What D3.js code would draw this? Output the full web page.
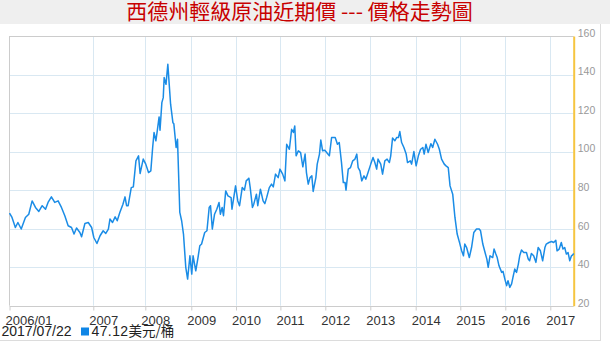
<!DOCTYPE html>
<html><head><meta charset="utf-8">
<script src="https://cdn.jsdelivr.net/npm/d3@7"></script>
<style>html,body{margin:0;padding:0;background:#fff;} svg{display:block}</style>
</head><body>
<svg id="c" width="610" height="356"></svg>
<script>
const title = "西德州輕級原油近期價 --- 價格走勢圖";
const yearTicks = [2006, 2007, 2008, 2009, 2010, 2011, 2012, 2013, 2014, 2015, 2016, 2017];
const yearLabels = ["2006/01", "2007", "2008", "2009", "2010", "2011", "2012", "2013", "2014", "2015", "2016", "2017"];
const endTime = 2017.553;
const yTicks = [20, 40, 60, 80, 100, 120, 140, 160];
const lastDate = "2017/07/22";
const lastPrice = "47.12";
const unit = "美元/桶";

// decimal-year times and WTI prices (USD/bbl)
const times = [
2006.00,2006.03,2006.07,2006.10,2006.14,2006.19,2006.23,2006.27,2006.31,2006.35,2006.39,2006.43,2006.46,2006.50,2006.54,2006.58,2006.62,2006.66,2006.70,2006.74,2006.77,2006.80,2006.84,2006.86,2006.90,2006.94,2006.98,
2007.01,2007.07,2007.13,2007.19,2007.24,2007.29,2007.32,2007.37,2007.42,2007.46,2007.51,2007.57,2007.61,2007.64,2007.67,2007.73,2007.77,2007.82,2007.87,2007.90,2007.96,
2008.01,2008.07,2008.12,2008.16,2008.19,2008.23,2008.26,2008.30,2008.32,2008.36,2008.39,2008.41,2008.45,2008.49,2008.52,2008.55,2008.60,2008.62,2008.67,2008.70,2008.75,2008.79,2008.83,2008.88,2008.92,2008.97,
2009.01,2009.04,2009.10,2009.15,2009.19,2009.23,2009.30,2009.35,2009.40,2009.43,2009.47,2009.52,2009.57,2009.62,2009.65,2009.69,2009.72,2009.77,2009.82,2009.89,2009.91,2009.99,
2010.04,2010.08,2010.14,2010.19,2010.23,2010.29,2010.32,2010.37,2010.40,2010.46,2010.49,2010.55,2010.61,2010.65,2010.69,2010.75,2010.80,2010.84,2010.89,2010.95,2010.99,
2011.05,2011.10,2011.14,2011.20,2011.25,2011.29,2011.32,2011.35,2011.40,2011.45,2011.50,2011.55,2011.58,2011.62,2011.66,2011.70,2011.73,2011.79,2011.82,2011.87,2011.90,2011.94,2011.99,
2012.03,2012.09,2012.14,2012.22,2012.27,2012.31,2012.36,2012.40,2012.44,2012.46,2012.51,2012.56,2012.61,2012.66,2012.70,2012.73,2012.77,2012.81,2012.86,2012.90,2012.95,
2013.01,2013.06,2013.10,2013.14,2013.17,2013.23,2013.27,2013.32,2013.37,2013.42,2013.45,2013.49,2013.54,2013.58,2013.62,2013.65,2013.69,2013.74,2013.79,2013.82,2013.88,2013.91,2013.96,
2014.01,2014.06,2014.11,2014.16,2014.19,2014.23,2014.28,2014.34,2014.38,2014.43,2014.49,2014.53,2014.58,2014.64,2014.68,2014.73,2014.77,2014.83,2014.88,2014.93,2014.98,
2015.03,2015.07,2015.10,2015.14,2015.20,2015.25,2015.30,2015.36,2015.42,2015.45,2015.50,2015.55,2015.59,2015.62,2015.66,2015.72,2015.75,2015.79,2015.82,2015.86,2015.92,2015.95,2015.99,
2016.03,2016.06,2016.10,2016.14,2016.17,2016.21,2016.25,2016.29,2016.32,2016.36,2016.41,2016.47,2016.51,2016.54,2016.58,2016.63,2016.68,2016.73,2016.78,2016.83,2016.88,2016.91,2016.97,
2017.03,2017.08,2017.13,2017.16,2017.21,2017.26,2017.30,2017.34,2017.38,2017.42,2017.46,2017.50,2017.53,2017.553
];
const prices = [
68.1,65.8,60.6,63.2,59.8,65.8,67.5,74.4,71.0,68.9,71.9,70.1,73.6,76.5,73.6,74.4,71.0,66.7,61.5,60.6,57.2,60.3,58.0,55.8,62.7,63.2,60.6,
55.4,52.3,56.3,58.9,57.5,59.8,65.0,63.2,66.1,64.1,68.4,72.7,76.5,71.9,71.9,81.3,81.7,95.2,97.8,88.6,96.1,
93.5,89.1,90.0,102.1,109.9,105.6,110.7,118.0,111.1,125.4,128.0,138.4,134.9,145.3,134.9,124.6,115.0,114.5,102.1,106.4,68.4,64.1,57.2,39.9,33.8,45.9,
36.4,45.9,38.1,45.0,51.1,52.0,58.0,58.9,71.0,71.9,59.8,67.5,70.1,73.6,67.5,71.0,66.7,79.6,77.0,76.1,70.1,82.2,
74.4,71.9,81.3,80.0,84.8,86.2,81.3,71.0,72.7,77.9,71.9,80.5,74.4,73.0,76.1,81.3,83.1,81.7,88.3,86.5,90.9,
88.3,84.8,103.8,101.2,111.6,109.9,113.3,97.8,100.4,99.5,92.1,98.7,89.1,83.1,86.5,87.4,79.3,86.5,93.5,98.7,106.0,100.4,100.7,
99.5,97.8,107.3,107.3,103.8,104.7,94.3,83.9,83.9,80.0,90.9,91.7,95.2,96.1,98.7,91.7,90.0,84.8,87.4,85.7,89.1,
93.5,96.9,94.3,90.9,96.1,93.5,88.3,95.2,96.1,94.3,97.8,107.0,105.6,107.3,107.3,110.4,104.7,102.1,98.7,94.3,95.2,93.5,100.0,
92.6,97.8,101.2,102.1,98.7,103.8,99.5,104.1,102.1,106.4,103.8,101.2,96.1,93.5,92.6,91.7,82.2,77.9,65.8,57.2,53.0,
48.5,45.9,52.0,50.2,45.0,50.2,58.0,59.8,59.8,58.9,52.0,47.6,44.2,39.9,45.9,45.0,49.4,46.8,45.0,40.7,37.3,37.8,33.8,
30.4,33.0,29.5,31.3,34.7,39.0,37.3,41.6,45.9,48.9,47.6,47.6,44.2,43.3,47.1,45.9,42.5,50.2,48.5,43.3,50.2,52.0,52.8,
53.3,52.8,54.0,48.5,49.4,52.8,49.4,50.2,46.8,47.6,43.3,45.9,46.4,47.12
];

const svg = d3.select("#c");
const W = 610, H = 356;
const pL = 9.5, pR = 573.7, pT = 36, pB = 305.7;

// page background / header band
svg.append("rect").attr("x", 0).attr("y", 0).attr("width", W).attr("height", 24).attr("fill", "#efefef");
svg.append("line").attr("x1", 600.5).attr("x2", 600.5).attr("y1", 24).attr("y2", 341).attr("stroke", "#dcdcdc");
svg.append("line").attr("x1", 0).attr("x2", 601).attr("y1", 340.5).attr("y2", 340.5).attr("stroke", "#dcdcdc");

svg.append("text").attr("x", 299.5).attr("y", 18.5).attr("text-anchor", "middle")
  .attr("font-family", "'Noto Sans CJK TC', sans-serif").attr("font-size", "21px").attr("fill", "#c80000")
  .text(title);

// scales (x is piecewise-linear by year, as in the original)
const x = d3.scaleLinear()
  .domain([...yearTicks, endTime])
  .range([pL, 93.3, 145.3, 191.3, 236, 280.4, 325.3, 370.3, 415.7, 460.3, 505.3, 550.3, pR]);
const y = d3.scaleLinear().domain([20, 160]).range([pB, pT]);

// gridlines
const gridColor = "#d9e8f2";
svg.append("g").selectAll("line").data(yTicks.filter(d => d > 20 && d < 160)).join("line")
  .attr("x1", pL).attr("x2", pR)
  .attr("y1", d => Math.round(y(d)) + 0.5).attr("y2", d => Math.round(y(d)) + 0.5)
  .attr("stroke", gridColor);
svg.append("g").selectAll("line").data(yearTicks.slice(1)).join("line")
  .attr("x1", d => Math.round(x(d)) + 0.5).attr("x2", d => Math.round(x(d)) + 0.5)
  .attr("y1", pT).attr("y2", pB)
  .attr("stroke", gridColor);

// frame
svg.append("line").attr("x1", pL).attr("x2", pR).attr("y1", pT + 0.5).attr("y2", pT + 0.5).attr("stroke", "#cccccc");
svg.append("line").attr("x1", pL).attr("x2", pL).attr("y1", pT).attr("y2", pB).attr("stroke", "#cccccc");

// bottom axis
const xAxis = d3.axisBottom(x).tickValues(yearTicks)
  .tickFormat((d, i) => yearLabels[i]).tickSize(4).tickSizeOuter(0);
const gx = svg.append("g").attr("transform", `translate(0,${Math.round(pB) + 0.5})`).call(xAxis);
gx.select(".domain").attr("stroke", "#cccccc").attr("d", `M${pL},0H${pR}`);
gx.selectAll(".tick line").attr("stroke", "#cccccc");
gx.selectAll(".tick text")
  .attr("text-anchor", "start").attr("x", -4.5).attr("y", 9).attr("dy", "0.71em")
  .attr("font-family", "'Liberation Sans', Arial, sans-serif").attr("font-size", "13px").attr("fill", "#333");

// right axis
const yAxis = d3.axisRight(y).tickValues(yTicks).tickSize(0).tickPadding(4);
const gy = svg.append("g").attr("transform", `translate(${pR},0)`).call(yAxis);
gy.select(".domain").attr("stroke", "#f6c540").attr("stroke-width", 2);
gy.selectAll(".tick text").attr("y", -3)
  .attr("font-family", "'Liberation Sans', Arial, sans-serif").attr("font-size", "10.5px").attr("fill", "#999");

// price line
const data = times.map((t, i) => ({ t, v: prices[i] }));
svg.append("path").datum(data)
  .attr("fill", "none").attr("stroke", "#1a8ce6").attr("stroke-width", 1.5).attr("stroke-linejoin", "round")
  .attr("d", d3.line().x(d => x(d.t)).y(d => y(d.v)));

// legend line
const lf = "'Liberation Sans', Arial, sans-serif";
svg.append("text").attr("x", 1.5).attr("y", 335.7).attr("font-family", lf).attr("font-size", "14px").attr("fill", "#222").text(lastDate);
svg.append("rect").attr("x", 81).attr("y", 327.5).attr("width", 8).attr("height", 8).attr("fill", "#0f86e6");
const lt = svg.append("text").attr("x", 91.5).attr("y", 335.7).attr("font-family", lf).attr("font-size", "14px").attr("fill", "#222");
lt.append("tspan").attr("letter-spacing", "0.4px").text(lastPrice);
lt.append("tspan").attr("font-family", "'Noto Sans CJK TC', sans-serif").attr("font-size", "13.5px").text(unit);
</script>
</body></html>
